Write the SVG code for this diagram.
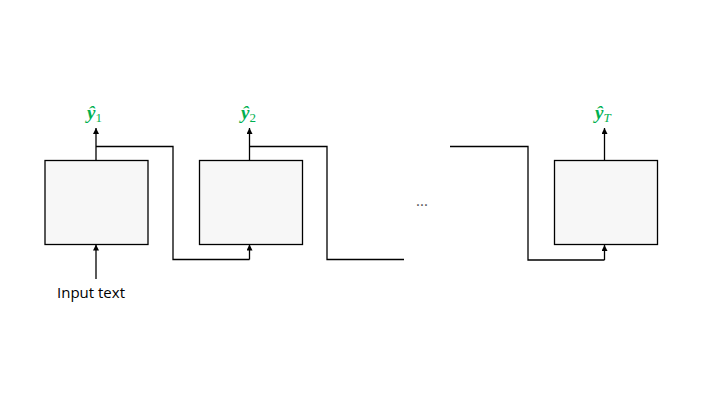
<svg xmlns="http://www.w3.org/2000/svg" width="720" height="405" viewBox="0 0 720 405">
<defs>
<marker id="ah" viewBox="0 0 6 6" refX="6" refY="3" markerWidth="6" markerHeight="6" markerUnits="userSpaceOnUse" orient="auto">
<path d="M0,0 L6,3 L0,6 z" fill="#000"/>
</marker>
</defs>
<style>
.box{fill:#F7F7F7;stroke:#000;stroke-width:1.3}
.ln{fill:none;stroke:#000;stroke-width:1.3}
.ar{fill:none;stroke:#000;stroke-width:1.3;marker-end:url(#ah)}
.lbl{font-family:"Liberation Serif","DejaVu Serif",serif;fill:#00B050;font-size:19px}
.y{font-weight:bold;font-style:italic}
.sub{font-size:13px}
.txt{font-family:"Open Sans","Liberation Sans",sans-serif;font-size:15px;fill:#000}
</style>
<rect width="720" height="405" fill="#fff"/>
<g id="node1"><rect class="box" x="45" y="160.5" width="103" height="84"/></g>
<g id="node2"><rect class="box" x="199.5" y="160.5" width="103" height="84"/></g>
<g id="node3"><rect class="box" x="554.5" y="160.5" width="103" height="84"/></g>
<g id="connectors">
<path class="ar" d="M96,160.5 V128"/>
<path class="ar" d="M249.5,160.5 V128"/>
<path class="ar" d="M604.5,160.5 V128"/>
<path class="ar" d="M96,279 V244.5"/>
<path class="ln" d="M96,146.5 H173 V259.5 H249.5"/>
<path class="ar" d="M249.5,259.5 V244.5"/>
<path class="ln" d="M249.5,146.5 H327 V259.5 H404"/>
<path class="ln" d="M450,146.5 H528 V260 H604.5"/>
<path class="ar" d="M604.5,260 V245"/>
</g>
<g id="labels">
<text class="lbl" x="87" y="119"><tspan class="y">ŷ</tspan><tspan class="sub" dy="3">1</tspan></text>
<text class="lbl" x="241" y="119"><tspan class="y">ŷ</tspan><tspan class="sub" dy="3">2</tspan></text>
<text class="lbl" x="595" y="119"><tspan class="y">ŷ</tspan><tspan class="sub" dy="3" font-style="italic">T</tspan></text>
<text class="txt" x="91" y="298" text-anchor="middle">Input text</text>
<text class="txt" x="422" y="206" text-anchor="middle" style="fill:#555">...</text>
</g>
</svg>
